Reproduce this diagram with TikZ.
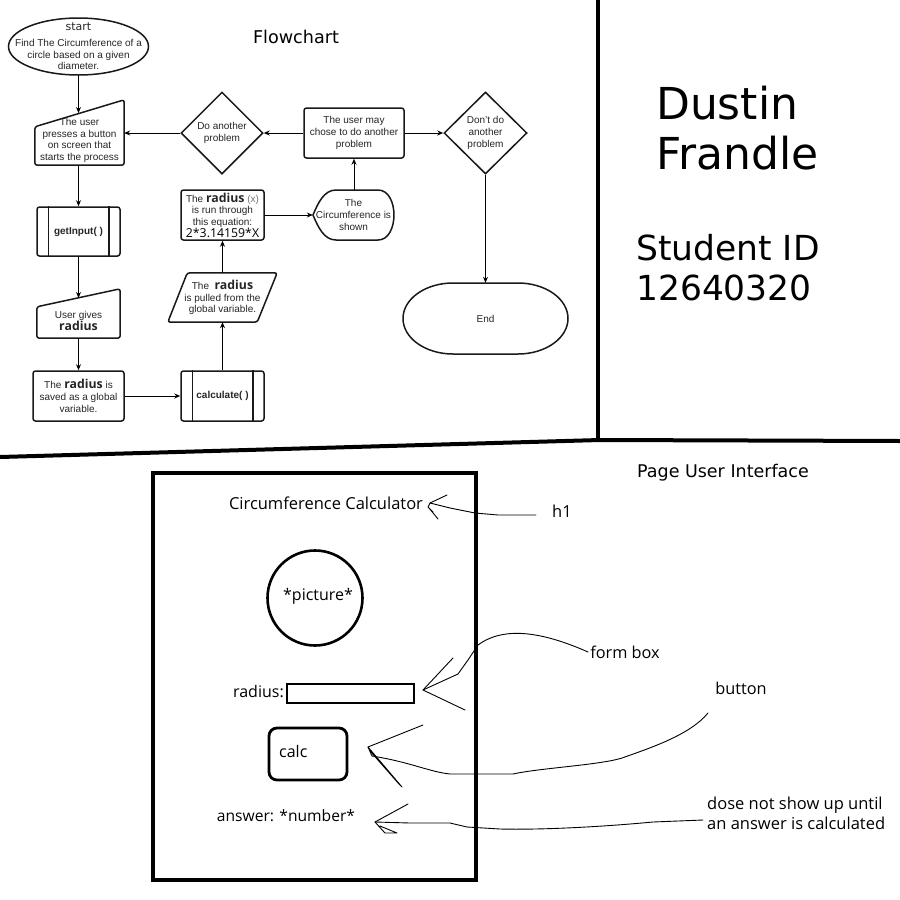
\documentclass[tikz,border=0pt]{standalone}
\usepackage{fontspec}
\setmainfont{Liberation Sans}
\newfontfamily\dejavu{DejaVu Sans}
\newfontfamily\uifont{Open Sans}
\usetikzlibrary{shapes.geometric,arrows.meta,calc}
\newcommand\fcrad[1]{{\uifont\bfseries\fontsize{12.3}{11}\selectfont #1}}
\begin{document}
\begin{tikzpicture}[x=1pt,y=-1pt,
  fc/.style={font=\fontsize{10}{11.7}\selectfont, align=center, inner sep=0pt, text=black!85},
  sh/.style={draw=black!90, line width=1.5pt},
  conn/.style={-{Stealth[length=6pt,width=5pt]}, line width=0.9pt},
  ui/.style={font=\uifont\fontsize{16}{19}\selectfont, inner sep=0pt},
  hand/.style={line width=0.9pt, line join=round, line cap=round},
  bar/.style={line width=4pt}
]
\fill[white] (0,0) rectangle (900,900);
\useasboundingbox (0,0) rectangle (900,900);

% dividers
\draw[bar] (0,457) -- (600,440) -- (900,441);
\draw[bar] (597.5,0) -- (597.5,440);

% titles
\node[font=\dejavu\fontsize{17.6}{20}\selectfont, inner sep=0] (fctitle) at (296,37) {Flowchart};
\node[font=\dejavu\fontsize{17.5}{20}\selectfont, inner sep=0] (uititle) at (723,473) {Page User Interface};
\node[font=\dejavu\fontsize{44}{50}\selectfont, align=left, anchor=west, inner sep=0] (name) at (656,128) {Dustin\\Frandle};
\node[font=\dejavu\fontsize{34.5}{40}\selectfont, align=left, anchor=west, inner sep=0] (sid) at (636,268) {Student ID\\12640320};

% ---------- flowchart ----------
\node[fc, minimum width=140, minimum height=57] (start) at (78.5,46.5)
  {{\dejavu\fontsize{11}{12}\selectfont start}\\[4pt]Find The Circumference of a\\circle based on a given\\diameter.};
\draw[sh] (start.center) ellipse [x radius=70, y radius=28.5];

\node[fc, minimum width=89, minimum height=49] (mi1) at (79.5,140.5)
  {The user\\presses a button\\on screen that\\starts the process};
\draw[sh, rounded corners=2.5pt] ([yshift=-11pt]mi1.north west) -- ([yshift=16pt]mi1.north east)
  -- (mi1.south east) -- (mi1.south west) -- cycle;
\coordinate (mi1in) at (78.5,113);

\node[fc, sh, rounded corners=2.5pt, minimum width=83, minimum height=49, font=\fontsize{10}{11.7}\selectfont\bfseries] (gi) at (78.5,231.5) {getInput( )};
\draw[sh] ([xshift=12pt]gi.north west) -- ([xshift=12pt]gi.south west);
\draw[sh] ([xshift=-12pt]gi.north east) -- ([xshift=-12pt]gi.south east);

\node[fc, minimum width=83, minimum height=34] (mi2) at (78.5,321) {User gives\\\fcrad{radius}};
\draw[sh, rounded corners=2.5pt] ([yshift=-3pt]mi2.north west) -- ([yshift=15pt]mi2.north east)
  -- (mi2.south east) -- (mi2.south west) -- cycle;
\coordinate (mi2in) at (78.5,298);

\node[fc, sh, rounded corners=2.5pt, minimum width=91, minimum height=50] (sv) at (78.5,396)
  {The \fcrad{radius} is\\saved as a global\\variable.};

\node[fc, sh, rounded corners=2.5pt, minimum width=83, minimum height=50, font=\fontsize{10}{11.7}\selectfont\bfseries] (ca) at (222.5,396) {calculate( )};
\draw[sh] ([xshift=12pt]ca.north west) -- ([xshift=12pt]ca.south west);
\draw[sh] ([xshift=-12pt]ca.north east) -- ([xshift=-12pt]ca.south east);

\node[fc, minimum width=89, minimum height=49] (pg) at (222.5,297.5)
  {The\ \ \fcrad{radius}\\is pulled from the\\global variable.};
\draw[sh, rounded corners=2.5pt] ([xshift=9.5pt]pg.north west) -- ([xshift=10pt]pg.north east)
  -- ([xshift=-10pt]pg.south east) -- ([xshift=-10pt]pg.south west) -- cycle;

\node[fc, sh, rounded corners=2.5pt, minimum width=83, minimum height=50] (eq) at (222.5,215)
  {The \fcrad{radius} {\color{black!55}(x)}\\is run through\\this equation:\\{\uifont\fontsize{12.3}{11.5}\selectfont\color{black} 2*3.14159*X}};

\node[fc, minimum width=81, minimum height=50] (ds) at (353.5,215) {The\\Circumference is\\shown};
\draw[sh] (313,215) .. controls (318,203) and (324,190) .. (336,190) -- (378,190)
  .. controls (399.3,190) and (399.3,240) .. (378,240) -- (336,240)
  .. controls (324,240) and (318,227) .. (313,215) -- cycle;

\node[fc, sh, rounded corners=2.5pt, minimum width=100, minimum height=50] (um) at (354,133)
  {The user may\\chose to do another\\problem};

\node[fc, sh, diamond, minimum width=82, minimum height=82] (d1) at (222,133) {Do another\\problem};
\node[fc, sh, diamond, minimum width=83, minimum height=82] (d2) at (485.5,133) {Don't do\\another\\problem};

\node[fc, minimum width=165, minimum height=71] (en) at (485.5,318.5) {End};
\draw[sh] (453,283) -- (518,283) .. controls (545.6,283) and (568,298.9) .. (568,318.5)
  .. controls (568,338.1) and (545.6,354) .. (518,354) -- (453,354)
  .. controls (425.4,354) and (403,338.1) .. (403,318.5)
  .. controls (403,298.9) and (425.4,283) .. (453,283) -- cycle;

% connectors
\draw[conn] ([yshift=-28.5pt]start.center) -- (mi1in);
\draw[conn] (mi1.south -| gi.north) -- (gi.north);
\draw[conn] (gi.south) -- (mi2in);
\draw[conn] (mi2.south) -- (sv.north);
\draw[conn] (sv.east) -- (ca.west);
\draw[conn] (ca.north) -- (pg.south);
\draw[conn] (pg.north) -- (eq.south);
\draw[conn] (eq.east) -- (ds.west);
\draw[conn] (ds.north -| um.south) -- (um.south);
\draw[conn] (um.west) -- (d1.east);
\draw[conn] (d1.west) -- (d1.west -| mi1.east);
\draw[conn] (um.east) -- (d2.west);
\draw[conn] (d2.south) -- (en.north);

% ---------- page user interface ----------
\node[draw, line width=3.5pt, minimum width=323, minimum height=407, inner sep=0] (page) at (314.5,676.5) {};
\node[ui, font=\uifont\fontsize{16.5}{19}\selectfont] (h1t) at (326,503) {Circumference Calculator};
\node[ui, draw, circle, line width=2.6pt, minimum size=95] (pic) at (315,598) {};
\node[ui] (pictext) at (318,596) {*picture*};
\node[ui, anchor=east] (radl) at (284,692) {radius:};
\node[draw, line width=2.8pt, minimum width=127, minimum height=19, inner sep=0] (inp) at (350.5,693.5) {};
\node[draw, line width=2.8pt, rounded corners=8pt, minimum width=78, minimum height=52, inner sep=0] (btn) at (308,754) {};
\node[ui, anchor=west] (btntext) at (279,751) {calc};
\node[ui, font=\uifont\fontsize{15.6}{19}\selectfont] (ans) at (286,816) {answer: *number*};

% annotation labels
\node[ui, font=\uifont\fontsize{16.5}{19}\selectfont] (lh1) at (562,511) {h1};
\node[ui, font=\uifont\fontsize{16.3}{19}\selectfont] (lform) at (625,652) {form box};
\node[ui, font=\uifont\fontsize{16.3}{19}\selectfont] (lbtn) at (741,688) {button};
\node[ui, align=left, anchor=west, font=\uifont\fontsize{16.5}{20}\selectfont] (lans) at (707,813) {dose not show up until\\an answer is calculated};

% hand-drawn arrows
\coordinate (tip1) at (430,503);
\draw[hand] (lh1.west) ++(-16,4) -- (498,515) -- (475,513) -- (450,508) -- (tip1);
\draw[hand] (447,495) -- (tip1) -- (428,507) -- (433,512) -- (429,508) -- (438,519);

\coordinate (tip2) at (423,690);
\draw[hand] (lform.west) ++(-2,0) .. controls (545,633) and (505,625) .. (478,645)
  -- (468,660) -- (458,674) -- (tip2);
\draw[hand] (453,658) -- (tip2) -- (465,710);

\coordinate (tip3) at (368,747);
\draw[hand] (708,713) .. controls (690,735) and (650,748) .. (622,758)
  .. controls (600,765) and (540,768) .. (513,774) -- (450,774)
  .. controls (430,772) and (410,762) .. (372,756) -- (tip3);
\draw[hand] (423,725) -- (tip3) -- (402,787) -- (399,784) -- (370,751);

\coordinate (tip4) at (375,822);
\draw[hand] (703,820) -- (653,822) .. controls (600,827) and (540,830) .. (500,829)
  -- (467,827) -- (450,823) -- (410,823) -- (tip4);
\draw[hand] (408,804) -- (tip4) -- (385,833) -- (397,833) -- (380,826);
\end{tikzpicture}
\end{document}
